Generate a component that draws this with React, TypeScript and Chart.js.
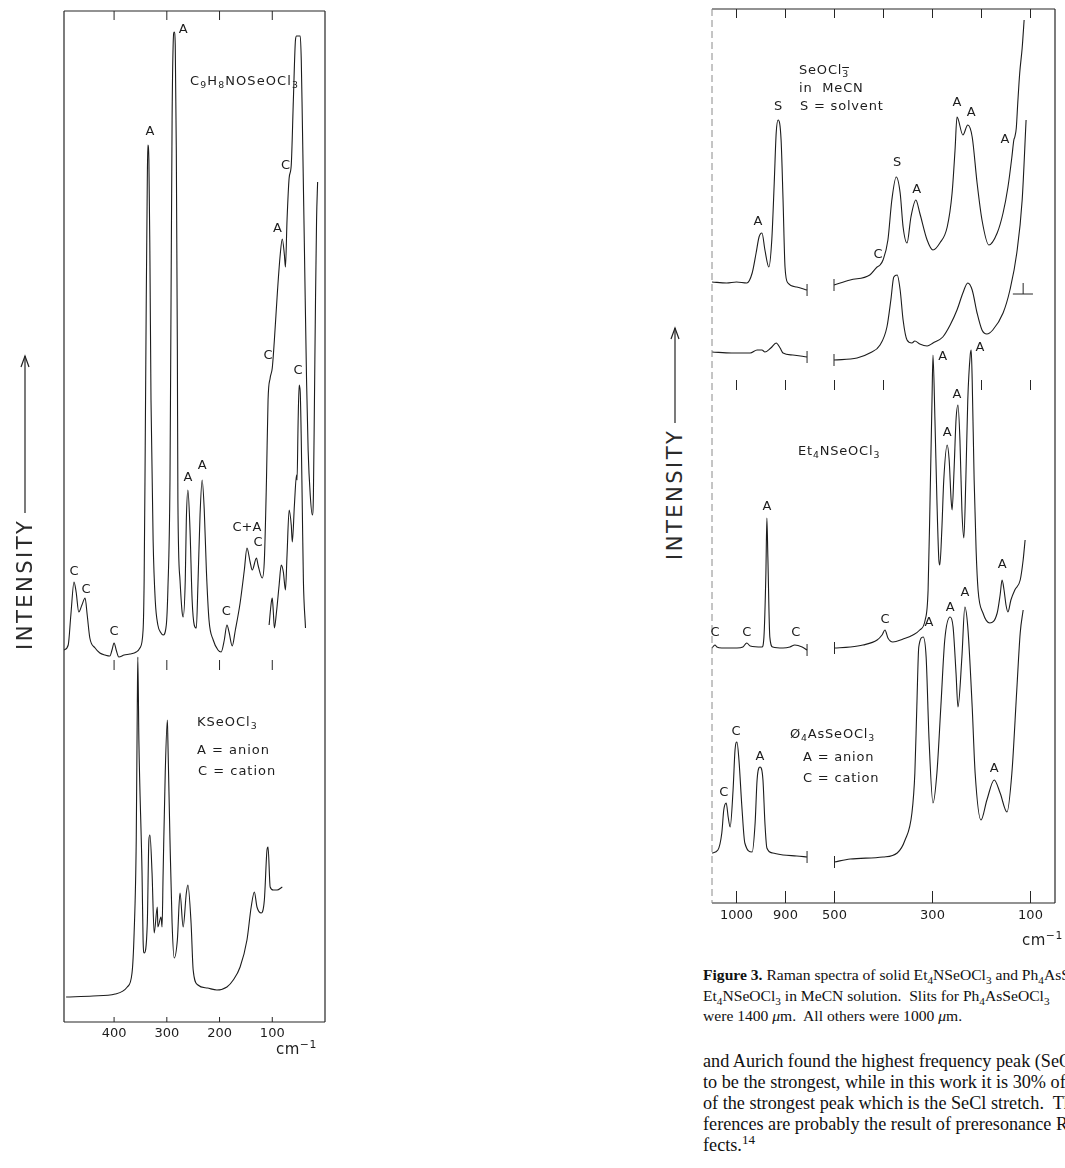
import React, { useEffect, useRef } from "react";
import { Chart, registerables } from "chart.js";

Chart.register(...registerables);

type Pt = [number, number]; // [wavenumber cm-1, intensity (arb. units)]
type Lbl = [string, number, number]; // [text, wavenumber, intensity]

/* ================= LEFT PANEL ================= */
// C9H8NOSeOCl3 (upper trace)
const c9Main: Pt[] = [
  [495, 372], [487, 377], [482, 407], [476, 440], [472, 430], [467, 410], [461, 417], [455, 424],
  [451, 407], [446, 384], [436, 374], [427, 369], [417, 367], [408, 366], [404, 372], [400, 379],
  [396, 372], [391, 365], [381, 367], [370, 368], [358, 370], [351, 374], [345, 392], [343, 442],
  [341, 572], [339, 722], [337, 842], [336, 877], [334, 862], [332, 762], [330, 622], [326, 482],
  [322, 422], [317, 397], [311, 389], [307, 387], [301, 397], [298, 432], [294, 542], [292, 722],
  [290, 902], [288, 977], [286, 990], [284, 977], [282, 872], [280, 672], [279, 522], [275, 442],
  [271, 410], [269, 405], [265, 442], [263, 502], [260, 532], [256, 492], [252, 422], [248, 397],
  [244, 394], [241, 437], [237, 507], [233, 542], [229, 512], [225, 452], [220, 402], [212, 382],
  [203, 372], [197, 370], [191, 382], [186, 397], [182, 390], [176, 376], [170, 392], [161, 419],
  [153, 452], [148, 474], [142, 460], [138, 452], [130, 464], [127, 457], [119, 444], [115, 462],
  [111, 542], [108, 622], [104, 644], [100, 654], [96, 682], [90, 732], [85, 767], [81, 783],
  [77, 767], [75, 755], [72, 802], [68, 844], [64, 857], [60, 922], [56, 982], [54, 986],
  [47, 986], [45, 962], [43, 902], [39, 772], [35, 642], [32, 572], [28, 527], [24, 507],
  [22, 527], [20, 622], [18, 722], [16, 802], [14, 840],
];
// C9H8NOSeOCl3, low-gain re-run of the 110-35 cm-1 region
const c9LowGain: Pt[] = [
  [106, 397], [102, 419], [100, 424], [98, 410], [96, 394], [92, 410], [87, 437], [83, 457],
  [79, 450], [75, 432], [72, 467], [68, 512], [64, 497], [62, 480], [58, 517], [54, 547],
  [53, 542], [51, 600], [49, 637], [47, 630], [45, 582], [43, 512], [41, 442], [37, 394],
];
// KSeOCl3 (lower trace)
const kSeOCl3: Pt[] = [
  [491, 25], [440, 26], [398, 28], [375, 35], [366, 49], [362, 89], [358, 182], [356, 315],
  [355, 365], [353, 282], [347, 149], [345, 82], [343, 69], [337, 99], [334, 182], [332, 187],
  [328, 149], [324, 89], [318, 115], [317, 95], [311, 105], [309, 95], [307, 149], [303, 249],
  [299, 302], [298, 282], [294, 182], [290, 99], [286, 64], [280, 82], [275, 129], [269, 95],
  [263, 129], [260, 137], [254, 99], [250, 52], [241, 37], [223, 34], [205, 32], [186, 35],
  [174, 42], [161, 55], [148, 82], [140, 115], [134, 130], [129, 115], [121, 109], [115, 122],
  [110, 172], [108, 175], [104, 135], [98, 132], [91, 132], [81, 135],
];
const leftTickValues = [400, 300, 200, 100];
const leftTickLabels = ["400", "300", "200", "100"];
const leftPeakLabels: Lbl[] = [
  ["A", 269, 992], ["A", 332, 890], ["C", 75, 856], ["A", 90, 793], ["C", 108, 666],
  ["C", 51, 651], ["A", 260, 544], ["A", 233, 556], ["C+A", 148, 494], ["C", 127, 479],
  ["C", 476, 450], ["C", 453, 432], ["C", 400, 390], ["C", 187, 410],
];

/* ================= RIGHT PANEL (broken axis 1050-850 | 500-50) ================= */
// SeOCl3- in MeCN, upper trace
const solA_hi: Pt[] = [
  [1050, 621], [1020, 620], [1000, 621], [979, 620], [968, 630], [960, 650], [954, 666], [948, 670],
  [942, 653], [934, 636], [928, 663], [923, 720], [919, 770], [915, 783], [909, 763], [905, 703],
  [901, 636], [895, 620], [877, 616], [856, 613],
];
const solA_lo: Pt[] = [
  [501, 618], [468, 623], [428, 628], [413, 636], [407, 638], [401, 643], [391, 663], [383, 703],
  [374, 726], [366, 710], [360, 676], [352, 660], [344, 686], [334, 703], [326, 690], [311, 663],
  [299, 653], [285, 660], [270, 676], [260, 710], [254, 753], [250, 786], [238, 768], [228, 778],
  [219, 766], [209, 720], [199, 683], [185, 658], [168, 670], [156, 690], [146, 716], [138, 746],
  [134, 763], [132, 766], [129, 775], [126, 800], [122, 830], [117, 855], [113, 883],
];
// SeOCl3- in MeCN, second trace
const solB_hi: Pt[] = [
  [1050, 551], [1010, 550], [972, 550], [958, 553], [948, 553], [942, 551], [930, 555], [919, 560],
  [911, 555], [905, 550], [885, 548], [856, 546],
];
const solB_lo: Pt[] = [
  [501, 543], [454, 545], [428, 550], [407, 558], [393, 576], [385, 603], [379, 626], [372, 628],
  [366, 613], [360, 583], [352, 563], [342, 560], [336, 562], [326, 559], [311, 557], [299, 560],
  [279, 566], [264, 578], [250, 593], [238, 610], [228, 620], [219, 613], [209, 590], [199, 573],
  [189, 569], [177, 573], [156, 590], [142, 613], [128, 650], [117, 703], [109, 783],
];
// Et4NSeOCl3
const et4_hi: Pt[] = [
  [1050, 255], [1044, 258], [1040, 256], [1030, 255], [999, 255], [987, 256], [979, 260], [972, 257],
  [948, 256], [944, 266], [940, 330], [938, 385], [936, 346], [932, 266], [926, 256], [905, 255],
  [891, 256], [881, 258], [866, 256], [856, 253],
];
const et4_lo: Pt[] = [
  [500, 255], [468, 256], [442, 258], [413, 263], [403, 268], [397, 273], [391, 265], [381, 261],
  [360, 264], [340, 268], [326, 273], [315, 283], [309, 313], [305, 403], [301, 503], [299, 548],
  [295, 483], [291, 403], [287, 343], [285, 338], [281, 373], [277, 423], [270, 458], [266, 443],
  [262, 403], [260, 393], [256, 433], [252, 483], [248, 498], [244, 463], [240, 393], [236, 365],
  [232, 423], [228, 503], [223, 548], [221, 553], [219, 523], [215, 423], [211, 353], [207, 313],
  [197, 290], [183, 280], [168, 290], [162, 308], [158, 323], [154, 313], [150, 298], [146, 291],
  [140, 303], [132, 313], [121, 323], [115, 343], [111, 363],
];
// Ph4AsSeOCl3
const ph4_hi: Pt[] = [
  [1050, 50], [1038, 53], [1030, 70], [1026, 93], [1021, 100], [1017, 86], [1013, 76], [1007, 113],
  [1003, 153], [999, 161], [995, 143], [989, 96], [983, 60], [968, 51], [962, 80], [958, 123],
  [952, 136], [946, 123], [942, 80], [938, 55], [926, 50], [905, 48], [877, 47], [856, 46],
];
const ph4_lo: Pt[] = [
  [500, 41], [468, 44], [401, 46], [372, 50], [356, 63], [342, 90], [336, 130], [332, 196],
  [328, 256], [319, 266], [313, 246], [307, 163], [299, 100], [291, 130], [283, 196], [275, 263],
  [264, 286], [258, 276], [252, 230], [248, 196], [240, 246], [234, 296], [228, 276], [219, 196],
  [213, 130], [201, 83], [189, 103], [174, 123], [162, 110], [148, 91], [138, 130], [128, 213],
  [121, 270], [115, 293],
];
const rightTickValues = [1000, 900, 500, 300, 100];
const rightTickLabels = ["1000", "900", "500", "300", "100"];
const rightTopTicks = [1000, 900, 500, 400, 300, 200, 100];
const rightMidTicks = [1000, 900, 500, 400, 200, 100];
const rightPeakLabels: Lbl[] = [
  ["S", 915, 796], ["A", 956, 681], ["S", 372, 740], ["A", 332, 713], ["C", 411, 648],
  ["A", 250, 800], ["A", 221, 790], ["A", 152, 763],
  ["A", 279, 546], ["A", 203, 555], ["A", 250, 508], ["A", 270, 470], ["A", 938, 396],
  ["C", 1044, 270], ["C", 979, 270], ["C", 879, 270], ["C", 397, 283], ["A", 158, 338],
  ["A", 307, 280], ["A", 264, 295], ["A", 234, 310], ["C", 1001, 171], ["C", 1026, 110],
  ["A", 952, 146], ["A", 174, 134],
];

/* ================= helpers ================= */
const INK = "#1c1c1c";
const SANS = '"DejaVu Sans", "Liberation Sans", sans-serif';
const SERIF = '"Liberation Serif", "DejaVu Serif", serif';

// broken axis: 1050..850 -> 0..200, 500..50 -> 250..700
const brokenAxis = (w: number) => (w >= 700 ? 1050 - w : 750 - w);
const identity = (w: number) => w;

function spec(points: Pt[], xOf: (w: number) => number, breakAt?: "start" | "end") {
  return {
    data: points.map(([w, i]) => ({ x: xOf(w), y: i })),
    borderColor: INK,
    borderWidth: 1.1,
    pointRadius: 0,
    fill: false,
    cubicInterpolationMode: "monotone",
    breakAt,
  } as any;
}

type Decor = {
  xOf: (w: number) => number;
  topTicks: number[];
  midTicks: number[];
  midFrom: number;
  midTo: number;
  bottomTicks: number[];
  bottomLen: number;
  labels: Lbl[];
  dashedLeft?: boolean;
  scaleMark?: { wFrom: number; wTo: number; wStem: number; i: number; iTop: number };
};

function decorPlugin(d: Decor) {
  return {
    id: "decor",
    afterDatasetsDraw(chart: any) {
      const { ctx, chartArea: a, scales } = chart;
      const xs = scales.x;
      const ys = scales.y;
      const seg = (x1: number, y1: number, x2: number, y2: number) => {
        ctx.beginPath();
        ctx.moveTo(x1, y1);
        ctx.lineTo(x2, y2);
        ctx.stroke();
      };
      ctx.save();
      ctx.strokeStyle = "#262626";
      ctx.lineWidth = 1.2;
      // frame
      seg(a.left, a.bottom, a.right, a.bottom);
      seg(a.right, a.bottom, a.right, a.top);
      seg(a.right, a.top, a.left, a.top);
      if (d.dashedLeft) {
        ctx.save();
        ctx.strokeStyle = "#8a8a8a";
        ctx.lineWidth = 1;
        ctx.setLineDash([7, 4]);
        seg(a.left, a.top, a.left, a.bottom);
        ctx.restore();
      } else {
        seg(a.left, a.top, a.left, a.bottom);
      }
      // tick marks
      ctx.lineWidth = 1;
      for (const w of d.topTicks) {
        const px = xs.getPixelForValue(d.xOf(w));
        seg(px, a.top, px, a.top + 9);
      }
      for (const w of d.midTicks) {
        const px = xs.getPixelForValue(d.xOf(w));
        seg(px, ys.getPixelForValue(d.midFrom), px, ys.getPixelForValue(d.midTo));
      }
      for (const w of d.bottomTicks) {
        const px = xs.getPixelForValue(d.xOf(w));
        seg(px, a.bottom, px, a.bottom - d.bottomLen);
      }
      // break marks at the ends of the split traces
      chart.data.datasets.forEach((ds: any, idx: number) => {
        if (!ds.breakAt) return;
        const els = chart.getDatasetMeta(idx).data;
        const el = ds.breakAt === "end" ? els[els.length - 1] : els[0];
        if (el) seg(el.x, el.y - 6, el.x, el.y + 6);
      });
      // intensity scale marker
      if (d.scaleMark) {
        const m = d.scaleMark;
        const y0 = ys.getPixelForValue(m.i);
        seg(xs.getPixelForValue(d.xOf(m.wFrom)), y0, xs.getPixelForValue(d.xOf(m.wTo)), y0);
        const xm = xs.getPixelForValue(d.xOf(m.wStem));
        seg(xm, y0, xm, ys.getPixelForValue(m.iTop));
      }
      // peak assignment letters
      ctx.fillStyle = INK;
      ctx.font = `13px ${SANS}`;
      ctx.textAlign = "center";
      ctx.textBaseline = "middle";
      for (const [t, w, i] of d.labels) {
        ctx.fillText(t, xs.getPixelForValue(d.xOf(w)), ys.getPixelForValue(i));
      }
      ctx.restore();
    },
  };
}

function baseOptions(
  xMin: number,
  xMax: number,
  reverse: boolean,
  yMax: number,
  padding: any,
  tickValues: number[],
  tickLabels: string[],
  xOf: (w: number) => number,
  tickPad: number
) {
  const posToLabel = new Map<number, string>();
  tickValues.forEach((w, k) => posToLabel.set(xOf(w), tickLabels[k]));
  return {
    responsive: false,
    animation: false,
    devicePixelRatio: 1,
    layout: { padding },
    plugins: { legend: { display: false }, tooltip: { enabled: false } },
    scales: {
      x: {
        type: "linear",
        min: xMin,
        max: xMax,
        reverse,
        grid: { display: false, drawTicks: false },
        border: { display: false },
        ticks: {
          autoSkip: false,
          maxRotation: 0,
          minRotation: 0,
          padding: tickPad,
          color: INK,
          font: { family: SANS, size: 13 },
          callback: (v: number) => posToLabel.get(v) ?? "",
        },
        afterBuildTicks: (axis: any) => {
          axis.ticks = tickValues.map((w) => ({ value: xOf(w) }));
        },
        afterFit: (axis: any) => {
          axis.height = 30;
        },
      },
      y: { type: "linear", display: false, min: 0, max: yMax },
    },
  } as any;
}

function LeftPanel() {
  const ref = useRef<HTMLCanvasElement>(null);
  useEffect(() => {
    const chart = new Chart(ref.current as HTMLCanvasElement, {
      type: "line",
      data: {
        datasets: [spec(c9Main, identity), spec(c9LowGain, identity), spec(kSeOCl3, identity)],
      },
      options: baseOptions(
        0, 495, true, 1011,
        { left: 64, top: 11, right: 20, bottom: 16 },
        leftTickValues, leftTickLabels, identity, 4
      ),
      plugins: [
        decorPlugin({
          xOf: identity,
          topTicks: leftTickValues,
          midTicks: leftTickValues,
          midFrom: 352,
          midTo: 362,
          bottomTicks: leftTickValues,
          bottomLen: 5,
          labels: leftPeakLabels,
        }),
      ],
    } as any);
    return () => chart.destroy();
  }, []);
  return (
    <canvas
      ref={ref}
      width={345}
      height={1068}
      style={{ position: "absolute", left: 0, top: 0, width: 345, height: 1068 }}
    />
  );
}

function RightPanel() {
  const ref = useRef<HTMLCanvasElement>(null);
  useEffect(() => {
    const chart = new Chart(ref.current as HTMLCanvasElement, {
      type: "line",
      data: {
        datasets: [
          spec(solA_hi, brokenAxis, "end"), spec(solA_lo, brokenAxis, "start"),
          spec(solB_hi, brokenAxis, "end"), spec(solB_lo, brokenAxis, "start"),
          spec(et4_hi, brokenAxis, "end"), spec(et4_lo, brokenAxis, "start"),
          spec(ph4_hi, brokenAxis, "end"), spec(ph4_lo, brokenAxis, "start"),
        ],
      },
      options: baseOptions(
        0, 700, false, 894,
        { left: 22, top: 9, right: 10, bottom: 17 },
        rightTickValues, rightTickLabels, brokenAxis, 5
      ),
      plugins: [
        decorPlugin({
          xOf: brokenAxis,
          topTicks: rightTopTicks,
          midTicks: rightMidTicks,
          midFrom: 513,
          midTo: 523,
          bottomTicks: rightTickValues,
          bottomLen: 12,
          labels: rightPeakLabels,
          dashedLeft: true,
          scaleMark: { wFrom: 136, wTo: 95, wStem: 115, i: 609, iTop: 620 },
        }),
      ],
    } as any);
    return () => chart.destroy();
  }, []);
  return (
    <canvas
      ref={ref}
      width={375}
      height={950}
      style={{ position: "absolute", left: 690, top: 0, width: 375, height: 950 }}
    />
  );
}

/* ================= text overlays ================= */
const Sub = ({ children }: any) => (
  <span style={{ fontSize: "0.72em", verticalAlign: "-0.32em", lineHeight: 0 }}>{children}</span>
);
const Sup = ({ children }: any) => (
  <span style={{ fontSize: "0.72em", verticalAlign: "0.55em", lineHeight: 0 }}>{children}</span>
);
const BarSub = ({ children }: any) => (
  <span
    style={{
      fontSize: "0.72em",
      verticalAlign: "-0.32em",
      lineHeight: 0,
      textDecoration: "overline",
    }}
  >
    {children}
  </span>
);

function T({ x, y, size = 13, children, spacing = 0.6 }: any) {
  return (
    <div
      style={{
        position: "absolute",
        left: x,
        top: y - size * 0.58,
        fontFamily: SANS,
        fontSize: size,
        lineHeight: `${size}px`,
        color: INK,
        whiteSpace: "nowrap",
        letterSpacing: spacing,
      }}
    >
      {children}
    </div>
  );
}

function Intensity({ cx, bottom, arrowTop }: any) {
  const textLen = 131;
  const top = bottom - textLen;
  return (
    <>
      <div
        style={{
          position: "absolute",
          left: cx - 11,
          top,
          width: 22,
          height: textLen,
          writingMode: "vertical-rl",
          transform: "rotate(180deg)",
          fontFamily: SANS,
          fontSize: 21,
          lineHeight: "22px",
          letterSpacing: 2.5,
          color: "#2a2a2a",
          whiteSpace: "nowrap",
        }}
      >
        INTENSITY
      </div>
      <svg
        style={{ position: "absolute", left: cx - 10, top: arrowTop - 2, overflow: "visible" }}
        width={20}
        height={top - arrowTop}
      >
        <line x1={10} y1={2} x2={10} y2={top - arrowTop - 4} stroke="#222" strokeWidth={1.2} />
        <polyline points="6,13 10,2 14,13" fill="none" stroke="#222" strokeWidth={1.2} />
      </svg>
    </>
  );
}

function CmInv({ x, y }: any) {
  return (
    <T x={x} y={y} size={15} spacing={0.5}>
      cm<Sup>−1</Sup>
    </T>
  );
}

export default function App() {
  const cap: React.CSSProperties = {
    position: "absolute",
    left: 703,
    fontFamily: SERIF,
    color: "#111",
    whiteSpace: "nowrap",
  };
  return (
    <div
      style={{
        position: "absolute",
        left: 0,
        top: 0,
        width: 1065,
        height: 1168,
        overflow: "hidden",
        background: "#fff",
      }}
    >
      <LeftPanel />
      <RightPanel />

      {/* left panel texts */}
      <T x={190} y={82} spacing={1.1}>
        C<Sub>9</Sub>H<Sub>8</Sub>NOSeOCl<Sub>3</Sub>
      </T>
      <T x={197} y={723} spacing={1}>
        KSeOCl<Sub>3</Sub>
      </T>
      <T x={197} y={751} spacing={1}>A = anion</T>
      <T x={198} y={772} spacing={1}>C = cation</T>
      <CmInv x={276} y={1051} />
      <Intensity cx={25} bottom={650} arrowTop={356} />

      {/* right panel texts */}
      <T x={799} y={71} spacing={0.8}>
        SeOCl<BarSub>3</BarSub>
      </T>
      <T x={799} y={89} spacing={0.8}>in&nbsp; MeCN</T>
      <T x={800} y={107} spacing={0.8}>S = solvent</T>
      <T x={798} y={452} spacing={0.8}>
        Et<Sub>4</Sub>NSeOCl<Sub>3</Sub>
      </T>
      <T x={790} y={735} spacing={0.8}>
        Ø<Sub>4</Sub>AsSeOCl<Sub>3</Sub>
      </T>
      <T x={803} y={758} spacing={0.8}>A = anion</T>
      <T x={803} y={779} spacing={0.8}>C = cation</T>
      <CmInv x={1022} y={942} />
      <Intensity cx={675} bottom={560} arrowTop={328} />

      {/* caption */}
      <div style={{ ...cap, top: 965, fontSize: 15.6, lineHeight: "20.5px" }}>
        <div>
          <b>Figure 3.</b> Raman spectra of solid Et<Sub>4</Sub>NSeOCl<Sub>3</Sub> and Ph<Sub>4</Sub>AsSeOCl
          <Sub>3</Sub> and of
        </div>
        <div>
          Et<Sub>4</Sub>NSeOCl<Sub>3</Sub> in MeCN solution.&nbsp; Slits for Ph<Sub>4</Sub>AsSeOCl<Sub>3</Sub>
        </div>
        <div>
          were 1400 <i>μ</i>m.&nbsp; All others were 1000 <i>μ</i>m.
        </div>
      </div>
      <div style={{ ...cap, top: 1051, fontSize: 18.2, lineHeight: "21px" }}>
        <div>and Aurich found the highest frequency peak (SeO stretch)</div>
        <div>to be the strongest, while in this work it is 30% of the intensity</div>
        <div>of the strongest peak which is the SeCl stretch.&nbsp; These dif-</div>
        <div>ferences are probably the result of preresonance Raman ef-</div>
        <div>
          fects.<Sup>14</Sup>
        </div>
      </div>
    </div>
  );
}
